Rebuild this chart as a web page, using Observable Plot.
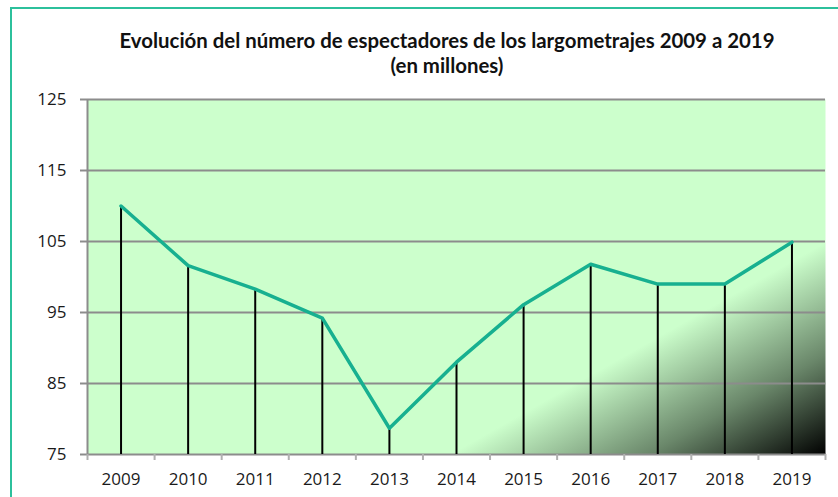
<!DOCTYPE html>
<html>
<head>
<meta charset="utf-8">
<script src="https://cdn.jsdelivr.net/npm/d3@7"></script>
<script src="https://cdn.jsdelivr.net/npm/@observablehq/plot@0.6"></script>
<style>
  html, body { margin: 0; padding: 0; background: #fff; overflow: hidden; }
  #wrap { position: relative; width: 838px; height: 497px; }
  #border { position: absolute; left: 10px; top: 7px; width: 840px; height: 500px; border: 2px solid #2cc09c; box-sizing: border-box; }
  #title { position: absolute; left: 0; top: 28px; width: 894px; text-align: center; font-family: Lato, "Open Sans", sans-serif; font-weight: bold; font-size: 20.4px; line-height: 25px; color: #111; }
  #chart { position: absolute; left: 0; top: 80px; }
  #chart svg text { font-size: 17px; }
</style>
</head>
<body>
<div id="wrap">
  <div id="border"></div>
  <div id="title">Evolución del número de espectadores de los largometrajes 2009 a 2019<br>(en millones)</div>
  <div id="chart"></div>
</div>
<script>
const years = [2009, 2010, 2011, 2012, 2013, 2014, 2015, 2016, 2017, 2018, 2019];
const spectators = [110.0, 101.6, 98.3, 94.2, 78.7, 88.0, 96.1, 101.8, 99.0, 99.0, 104.9];
const yTicks = [75, 85, 95, 105, 115, 125];
const yBase = 75;

const data = years.map((year, i) => ({year, value: spectators[i]}));
const boundaries = years.map(y => y - 0.5).concat([years[years.length - 1] + 0.5]);

const defs = () => {
  const g = d3.create("svg:defs");
  const lg = g.append("linearGradient").attr("id", "bgGrad")
    .attr("x1", 0).attr("y1", 0).attr("x2", 1.074).attr("y2", 0.914);
  lg.append("stop").attr("offset", "0").attr("stop-color", "#ccffcc");
  lg.append("stop").attr("offset", "0.725").attr("stop-color", "#ccffcc");
  lg.append("stop").attr("offset", "0.87").attr("stop-color", "#6a876a");
  lg.append("stop").attr("offset", "1").attr("stop-color", "#000000");
  return g.node();
};

const chart = Plot.plot({
  width: 838,
  height: 417,
  marginTop: 19,
  marginBottom: 43,
  marginLeft: 87,
  marginRight: 13,
  style: {fontFamily: "'Open Sans', 'Noto Sans', sans-serif", fontSize: "17px", fontWeight: "400", color: "#1a1a1a", background: "transparent"},
  x: {type: "linear", domain: [years[0] - 0.5, years[years.length - 1] + 0.5], label: null},
  y: {type: "linear", domain: [yTicks[0], yTicks[yTicks.length - 1]], label: null},
  marks: [
    defs,
    Plot.frame({fill: "url(#bgGrad)", stroke: null}),
    Plot.ruleY(yTicks, {stroke: "#8c8c8c", strokeWidth: 2, strokeOpacity: 1}),
    Plot.ruleX([boundaries[0]], {stroke: "#8c8c8c", strokeWidth: 2}),
    Plot.axisY({ticks: yTicks, tickSize: 7, tickFormat: () => "", stroke: "#8c8c8c", strokeWidth: 2, strokeOpacity: 1}),
    Plot.axisY({ticks: yTicks, tickSize: 0, tickPadding: 21, tickFormat: d => String(d), fontSize: 17, fill: "#1a1a1a"}),
    Plot.axisX({ticks: boundaries, tickSize: 6, tickFormat: () => "", stroke: "#b0b0b0", strokeWidth: 2, strokeOpacity: 1}),
    Plot.axisX({ticks: years, tickSize: 0, tickPadding: 18, tickFormat: d => String(d), fontSize: 17, fill: "#1a1a1a"}),
    Plot.ruleX(data, {x: "year", y1: yBase, y2: "value", stroke: "#000", strokeWidth: 2}),
    Plot.line(data, {x: "year", y: "value", stroke: "#17b090", strokeWidth: 3.5, strokeLinejoin: "round"})
  ]
});
document.getElementById("chart").appendChild(chart);
</script>
</body>
</html>
